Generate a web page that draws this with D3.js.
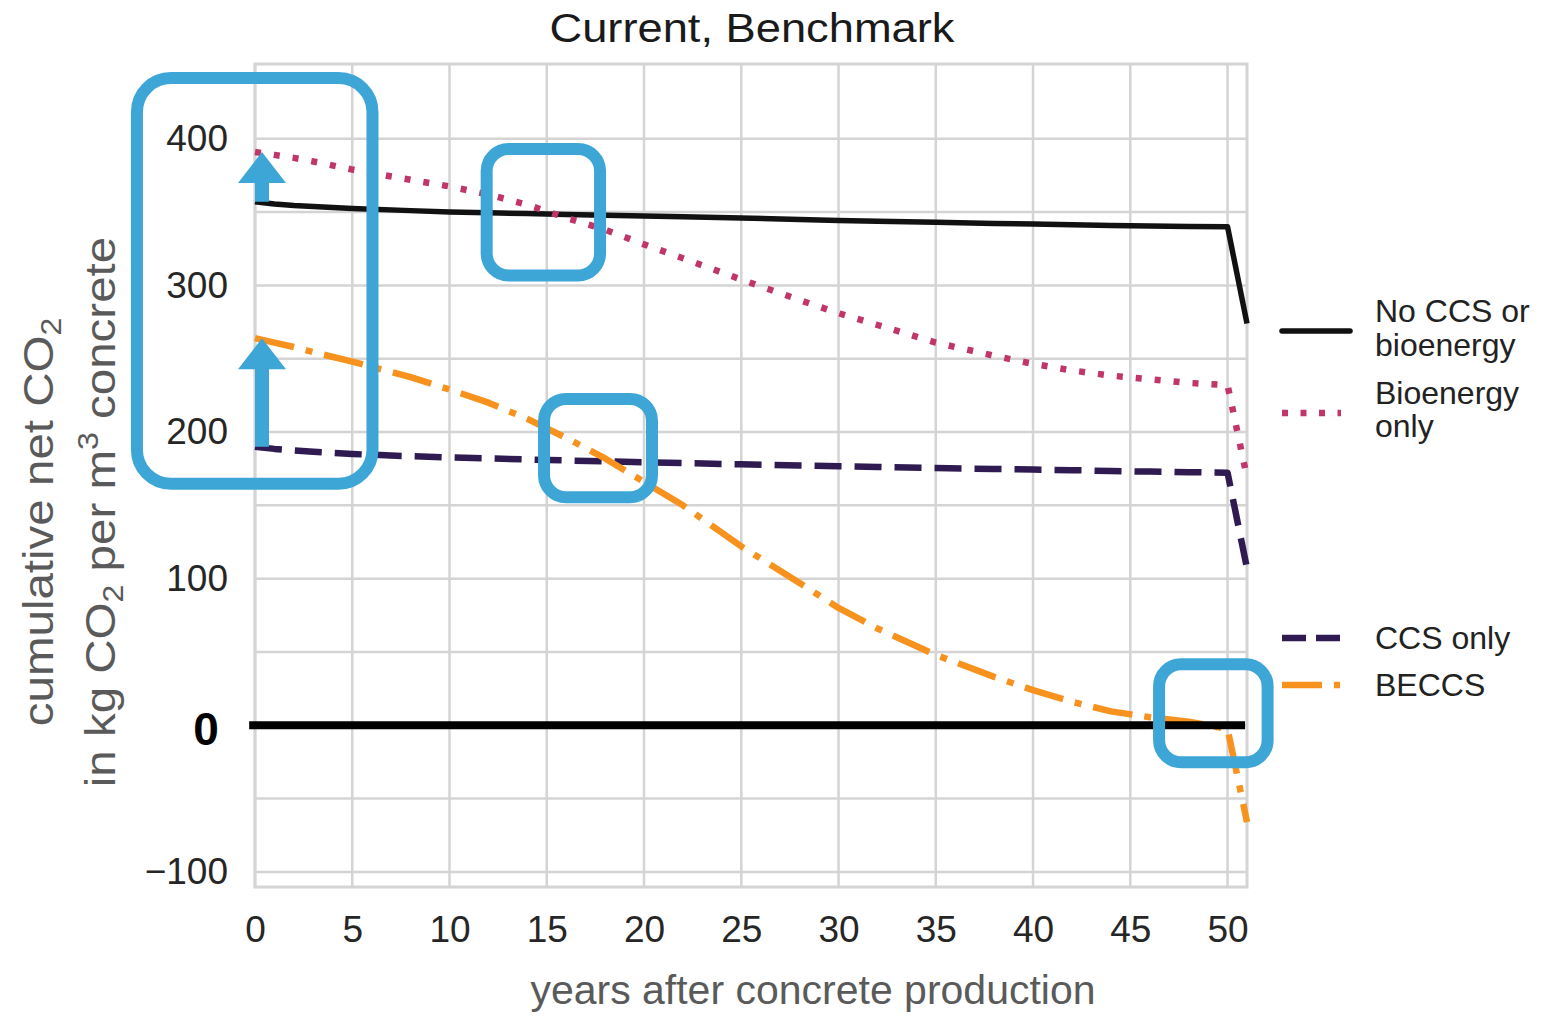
<!DOCTYPE html>
<html>
<head>
<meta charset="utf-8">
<script src="https://cdn.jsdelivr.net/npm/d3@7"></script>
<style>
  body { margin: 0; background: #fff; }
  svg text { font-family: "Liberation Sans", Arial, sans-serif; }
</style>
</head>
<body>
<svg class="chart"></svg>
<script>
// values, kg CO2 per m3 concrete
const YEARS    = [0, 1, 2, 3, 5, 8, 10, 12, 14, 16, 18, 20, 22, 25, 28, 30, 32, 35, 38, 40, 42, 44, 46, 48, 50, 51];
const NO_CCS   = [357, 355.5, 354.5, 353.8, 352.5, 351, 350, 349.5, 349, 348.3, 347.8, 347.3, 346.8, 346, 345, 344.3, 343.8, 343, 342.3, 341.8, 341.3, 340.8, 340.5, 340.2, 340, 274];
const BIO_ONLY = [391, 389, 387, 384.5, 379, 372, 367.5, 362, 355, 346, 338, 328, 318.5, 304, 290, 281, 273, 261, 252, 246.5, 242, 238.5, 236, 233.5, 232, 169];
const CCS_ONLY = [190, 188.5, 187.5, 186.5, 185, 183.5, 182.7, 182, 181.3, 180.6, 180, 179.4, 178.8, 178, 177.2, 176.7, 176.2, 175.5, 174.8, 174.4, 174, 173.4, 173, 172.6, 172.3, 107];
const BECCS    = [264, 261, 258, 254.5, 248, 237.5, 229, 220, 209, 196, 182, 166, 150, 122, 97, 80, 66, 48, 33, 24, 16, 9.5, 5.5, 2.5, -2.5, -66];

const X_TICKS = [0, 5, 10, 15, 20, 25, 30, 35, 40, 45, 50];
const Y_TICKS = [-100, 100, 200, 300, 400];
const Y_GRID  = [-100, -50, 0, 50, 100, 150, 200, 250, 300, 350, 400];

// highlight boxes of the annotated figure, in years / kg CO2
const BOX_YEARS  = [[-6.07, 6.04], [11.91, 17.74], [14.86, 20.41], [46.48, 52.06]];
const BOX_VALUES = [[441.4, 164.7], [393, 306.8], [222.6, 155.5], [41.6, -25.2]];

function drawChart() {
  const W = 1550, H = 1017;
  const svg = d3.select(".chart").attr("width", W).attr("height", H);

  const x = d3.scaleLinear().domain([0, 51]).range([255, 1247]);
  const y = d3.scaleLinear().domain([-110.3, 451]).range([887, 64]);

  const gridColor = "#d4d4d4";
  const blue = "#3ea6d7";

  // grid
  svg.append("g").selectAll("line").data(X_TICKS).enter().append("line")
    .attr("x1", d => x(d)).attr("x2", d => x(d))
    .attr("y1", y.range()[1]).attr("y2", y.range()[0])
    .attr("stroke", gridColor).attr("stroke-width", 2.5);
  svg.append("g").selectAll("line").data(Y_GRID).enter().append("line")
    .attr("x1", x.range()[0]).attr("x2", x.range()[1])
    .attr("y1", d => y(d)).attr("y2", d => y(d))
    .attr("stroke", gridColor).attr("stroke-width", 2.5);

  // frame
  svg.append("rect")
    .attr("x", x.range()[0]).attr("y", y.range()[1])
    .attr("width", x.range()[1] - x.range()[0])
    .attr("height", y.range()[0] - y.range()[1])
    .attr("fill", "none").attr("stroke", gridColor).attr("stroke-width", 3);

  // axes (labels only)
  const xAxis = d3.axisBottom(x).tickValues(X_TICKS).tickSize(0).tickPadding(29);
  const gx = svg.append("g").attr("transform", "translate(0," + y.range()[0] + ")").call(xAxis);
  const yAxis = d3.axisLeft(y).tickValues(Y_TICKS).tickSize(0).tickPadding(27)
    .tickFormat(d => d < 0 ? "\u2212" + Math.abs(d) : d);
  const gy = svg.append("g").attr("transform", "translate(" + x.range()[0] + ",0)").call(yAxis);
  [gx, gy].forEach(g => {
    g.select(".domain").remove();
    g.selectAll("text").attr("font-size", 37).attr("fill", "#262626")
      .style("font-family", "'Liberation Sans', Arial, sans-serif");
  });

  // series
  const series = [
    { vals: NO_CCS,   color: "#111111", width: 5.5, dash: null },
    { vals: BIO_ONLY, color: "#c0366b", width: 6.5, dash: "6,13" },
    { vals: CCS_ONLY, color: "#2f1b52", width: 6.5, dash: "27,13" },
    { vals: BECCS,    color: "#f7921e", width: 6.5, dash: "40,12,7,12" }
  ];
  const line = d3.line().x((d, i) => x(YEARS[i])).y(d => y(d));
  svg.append("g").selectAll("path").data(series).enter().append("path")
    .attr("d", d => line(d.vals))
    .attr("fill", "none")
    .attr("stroke", d => d.color)
    .attr("stroke-width", d => d.width)
    .attr("stroke-dasharray", d => d.dash)
    .attr("stroke-linejoin", "round");

  // title
  svg.append("text").attr("x", 752).attr("y", 42)
    .attr("text-anchor", "middle").attr("font-size", 40)
    .attr("textLength", 405).attr("lengthAdjust", "spacingAndGlyphs")
    .attr("fill", "#1a1a1a").text("Current, Benchmark");

  // x label
  svg.append("text").attr("x", 813).attr("y", 1004)
    .attr("text-anchor", "middle").attr("font-size", 41)
    .attr("fill", "#5a5a5a").text("years after concrete production");

  // y label, two lines
  const yl1 = svg.append("text")
    .attr("transform", "translate(53,522) rotate(-90) scale(1.105,1)")
    .attr("text-anchor", "middle").attr("font-size", 43).attr("fill", "#5a5a5a");
  yl1.append("tspan").text("cumulative net CO");
  yl1.append("tspan").attr("font-size", 29).attr("dy", 8).text("2");

  const yl2 = svg.append("text")
    .attr("transform", "translate(115,512) rotate(-90) scale(1.105,1)")
    .attr("text-anchor", "middle").attr("font-size", 43).attr("fill", "#5a5a5a");
  yl2.append("tspan").text("in kg CO");
  yl2.append("tspan").attr("font-size", 29).attr("dy", 8).text("2");
  yl2.append("tspan").attr("dy", -8).text(" per m");
  yl2.append("tspan").attr("font-size", 29).attr("dy", -17).text("3");
  yl2.append("tspan").attr("dy", 17).text(" concrete");

  // legend
  const legend = [
    { s: series[0], ly: 331, lines: ["No CCS or", "bioenergy"], off: [-9, 25], dash: null },
    { s: series[1], ly: 413, lines: ["Bioenergy", "only"], off: [-9, 24], dash: "6,12.5" },
    { s: series[2], ly: 638, lines: ["CCS only"], off: [11], dash: "24,10" },
    { s: series[3], ly: 685, lines: ["BECCS"], off: [11], dash: "40,12,6,12" }
  ];
  legend.forEach(e => {
    svg.append("line")
      .attr("x1", 1282).attr("x2", e.s === series[0] ? 1350 : 1341)
      .attr("y1", e.ly).attr("y2", e.ly)
      .attr("stroke", e.s.color).attr("stroke-width", e.s.width)
      .attr("stroke-dasharray", e.dash)
      .attr("stroke-linecap", e.dash ? "butt" : "round");
    e.lines.forEach((t, i) => {
      svg.append("text").attr("x", 1375).attr("y", e.ly + e.off[i])
        .attr("font-size", 32).attr("fill", "#222").text(t);
    });
  });

  // annotation: zero line and bold 0
  svg.append("line")
    .attr("x1", x(-0.3)).attr("x2", x(50.9))
    .attr("y1", y(0)).attr("y2", y(0))
    .attr("stroke", "#000").attr("stroke-width", 8);
  svg.append("text").attr("x", 206).attr("y", y(0) + 20)
    .attr("text-anchor", "middle").attr("font-size", 46)
    .attr("font-weight", "bold").attr("fill", "#000").text("0");

  // annotation: highlight boxes
  svg.append("g").selectAll("rect").data(BOX_YEARS).enter().append("rect")
    .attr("x", d => x(d[0]))
    .attr("width", d => x(d[1]) - x(d[0]))
    .attr("y", (d, i) => y(BOX_VALUES[i][0]))
    .attr("height", (d, i) => y(BOX_VALUES[i][1]) - y(BOX_VALUES[i][0]))
    .attr("rx", (d, i) => i === 0 ? 34 : 22)
    .attr("fill", "none").attr("stroke", blue).attr("stroke-width", 12);

  // annotation: arrows from one start value to another
  const arrows = [[NO_CCS[0], BIO_ONLY[0]], [CCS_ONLY[0], BECCS[0]]];
  const ax = x(0.36);
  svg.append("g").selectAll("path").data(arrows).enter().append("path")
    .attr("d", d => {
      const ty = y(d[0]), hy = y(d[1]);
      return "M" + (ax - 7) + "," + ty + "L" + (ax - 7) + "," + (hy + 31) +
        "L" + (ax - 24) + "," + (hy + 31) + "L" + ax + "," + hy +
        "L" + (ax + 24) + "," + (hy + 31) + "L" + (ax + 7) + "," + (hy + 31) +
        "L" + (ax + 7) + "," + ty + "Z";
    })
    .attr("fill", blue);
}

drawChart();
</script>
</body>
</html>
